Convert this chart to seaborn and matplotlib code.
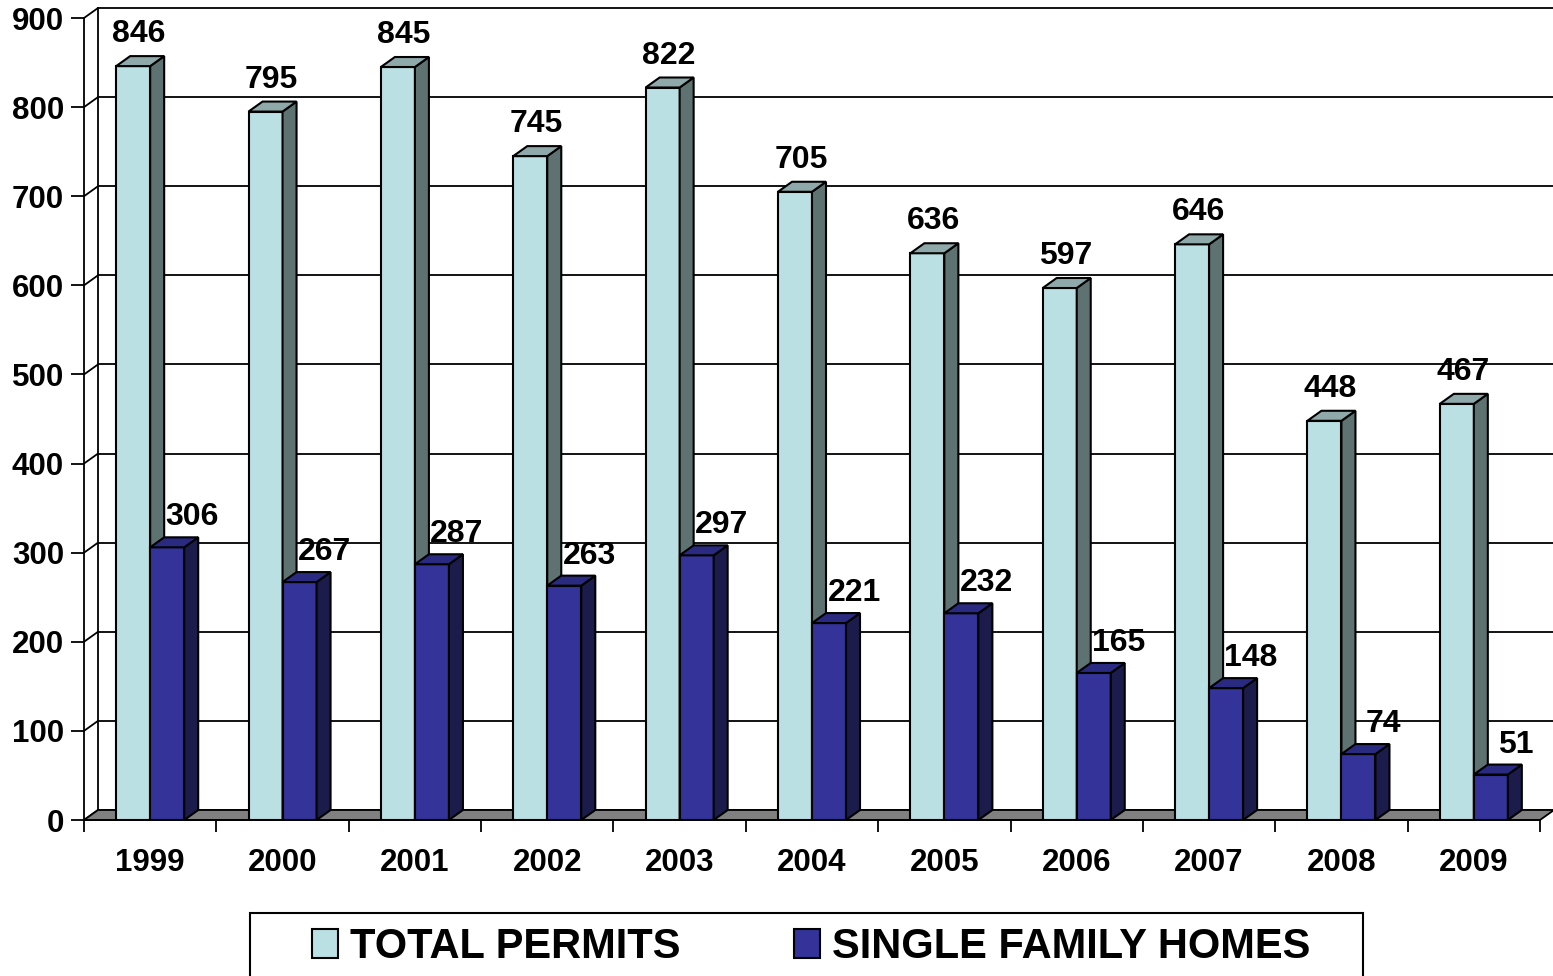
import matplotlib
matplotlib.use("Agg")
import matplotlib.pyplot as plt
import seaborn as sns
import pandas as pd
from matplotlib.patches import Polygon, Patch, Rectangle

# building permits per year
years = ['1999', '2000', '2001', '2002', '2003', '2004', '2005', '2006', '2007', '2008', '2009']
total_permits = [846, 795, 845, 745, 822, 705, 636, 597, 646, 448, 467]
single_family = [306, 267, 287, 263, 297, 221, 232, 165, 148, 74, 51]
series_names = ['TOTAL PERMITS', 'SINGLE FAMILY HOMES']
y_ticks = list(range(0, 901, 100))

front_colors = ['#bbe0e3', '#333399']
side_colors = ['#5f7272', '#1c1c4c']
top_colors = ['#8fa9aa', '#2a2a80']

df = pd.DataFrame({
    'year': years * 2,
    'value': total_permits + single_family,
    'series': [series_names[0]] * len(years) + [series_names[1]] * len(years),
})

sns.set_style('white')
plt.rcParams['font.family'] = ['Liberation Sans', 'DejaVu Sans']
plt.rcParams['font.weight'] = 'bold'
plt.rcParams['text.color'] = 'black'
plt.rcParams['xtick.color'] = 'black'
plt.rcParams['ytick.color'] = 'black'

W, H, DPI = 1553, 976, 100
fig = plt.figure(figsize=(W / DPI, H / DPI), dpi=DPI)
fig.patch.set_facecolor('white')
# axes = front plane of the fake 3D box
left_px, right_px, bottom_px, top_px = 84, 1540, 820, 18
ax = fig.add_axes([left_px / W, 1 - bottom_px / H, (right_px - left_px) / W, (bottom_px - top_px) / H])

sns.barplot(data=df, x='year', y='value', hue='series', palette=front_colors,
            width=0.514, edgecolor='black', linewidth=1.5, saturation=1,
            legend=False, ax=ax)

n = len(years)
ymax = y_ticks[-1]
ax.set_xlim(-0.5, n - 0.5)
ax.set_ylim(0, ymax)
ax.set_xlabel('')
ax.set_ylabel('')

# depth offset of the 3D effect, in data units
px_x = (right_px - left_px) / n
px_y = (bottom_px - top_px) / ymax
dx = 14 / px_x
dy = 10 / px_y

# back wall gridlines and side wall diagonals
for v in y_ticks:
    ax.plot([-0.5 + dx, n - 0.5 + dx], [v + dy, v + dy], color='black', lw=1.3,
            zorder=1, clip_on=False)
    ax.plot([-0.5, -0.5 + dx], [v, v + dy], color='black', lw=1.3, zorder=1, clip_on=False)
ax.plot([-0.5 + dx, -0.5 + dx], [dy, ymax + dy], color='black', lw=1.3, zorder=1, clip_on=False)

# floor
floor = Polygon([(-0.5, 0), (n - 0.5, 0), (n - 0.5 + dx, dy), (-0.5 + dx, dy)],
                closed=True, facecolor='#808080', edgecolor='black', lw=1.3,
                zorder=1.5, clip_on=False)
ax.add_patch(floor)

# side and top faces of each bar + value labels
label_offsets = [(6, 32), (25, 30)]
for k, cont in enumerate(ax.containers):
    for bar in cont:
        x0 = bar.get_x()
        w = bar.get_width()
        h = bar.get_height()
        x1 = x0 + w
        bar.set_zorder(2 + k)
        side = Polygon([(x1, 0), (x1, h), (x1 + dx, h + dy), (x1 + dx, dy)], closed=True,
                       facecolor=side_colors[k], edgecolor='black', lw=1.5,
                       zorder=2 + k, clip_on=False)
        top = Polygon([(x0, h), (x1, h), (x1 + dx, h + dy), (x0 + dx, h + dy)], closed=True,
                      facecolor=top_colors[k], edgecolor='black', lw=1.5,
                      zorder=2 + k, clip_on=False)
        ax.add_patch(side)
        ax.add_patch(top)
        ax.annotate(f'{h:.0f}', xy=(x0 + w / 2, h), xytext=label_offsets[k],
                    textcoords='offset pixels', ha='center', va='center', color='black',
                    fontsize=23, fontweight='bold', zorder=5, annotation_clip=False)

# axes and ticks
ax.set_xticks([i - 0.5 for i in range(n + 1)])
ax.set_xticklabels([])
ax.set_xticks(range(n), labels=years, minor=True)
ax.tick_params(axis='x', which='major', length=8.6, width=1.3, color='black', direction='out', bottom=True)
ax.tick_params(axis='x', which='minor', length=0, pad=20, labelsize=22.5, labelcolor='black')
ax.set_yticks(y_ticks)
ax.tick_params(axis='y', length=9.4, width=1.3, color='black', direction='out', left=True,
               pad=5, labelsize=22.5, labelcolor='black')
for lab in ax.get_xticklabels(minor=True) + ax.get_yticklabels():
    lab.set_fontweight('bold')

for s in ['top', 'right']:
    ax.spines[s].set_visible(False)
for s in ['left', 'bottom']:
    ax.spines[s].set_color('black')
    ax.spines[s].set_linewidth(1.3)
    ax.spines[s].set_zorder(1.6)

# legend with a frame that runs off the bottom edge
handles = [Patch(facecolor=c, edgecolor='black', linewidth=1.5) for c in front_colors]
leg = fig.legend(handles, series_names, loc='center left', bbox_to_anchor=(312 / W, 1 - 947 / H),
                 ncol=2, frameon=False, prop={'size': 30, 'weight': 'bold'},
                 handlelength=0.62, handleheight=0.7, handletextpad=0.29,
                 columnspacing=2.73, borderpad=0, borderaxespad=0)
for t in leg.get_texts():
    t.set_color('black')
fig.add_artist(Rectangle((250 / W, -0.05), (1363 - 250) / W, (1 - 913 / H) + 0.05,
                         transform=fig.transFigure, fill=False, edgecolor='black', lw=1.5))

fig.savefig('out.png', dpi=DPI)
